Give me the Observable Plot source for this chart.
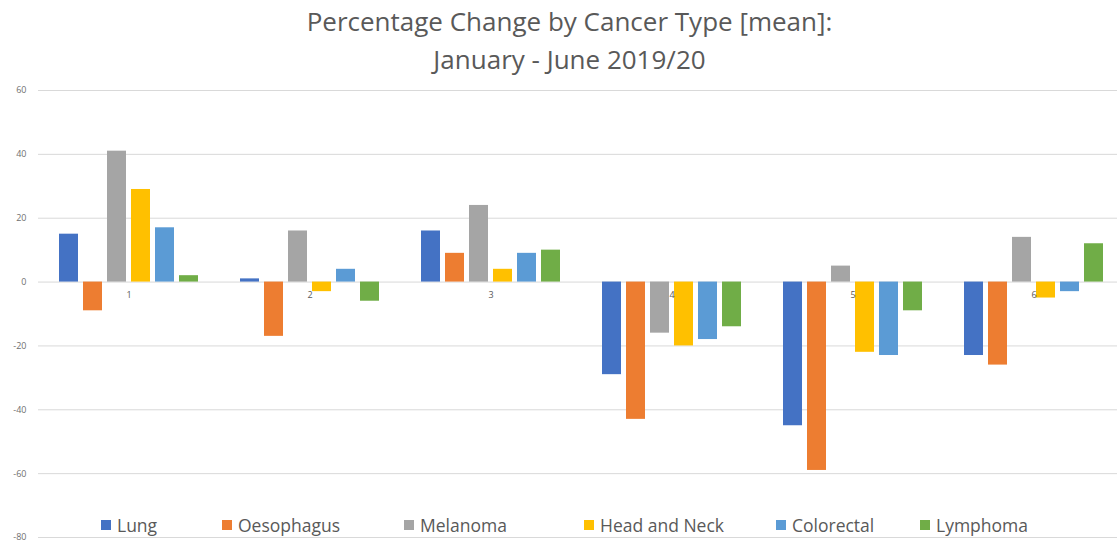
<!DOCTYPE html>
<html>
<head>
<meta charset="utf-8">
<script src="https://cdn.jsdelivr.net/npm/d3@7"></script>
<script src="https://cdn.jsdelivr.net/npm/@observablehq/plot@0.6"></script>
<style>
  html, body { margin: 0; padding: 0; background: #fff; }
  #wrap { position: relative; width: 1117px; height: 542px; overflow: hidden; font-family: "Open Sans", Lato, sans-serif; }
  #title { height: 80px; box-sizing: border-box; padding-top: 2px; text-align: center; color: #595959; font-size: 26px; line-height: 38px; padding-left: 22px; }
  #legend { position: absolute; top: 514px; left: 0; width: 1117px; height: 22px; font-size: 17.5px; color: #595959; }
  .item { position: absolute; top: 0; display: flex; align-items: center; height: 22px; }
  .sw { width: 10px; height: 10px; margin-right: 6px; }
</style>
</head>
<body>
<div id="wrap">
  <div id="title">Percentage Change by Cancer Type [mean]:<br>January - June 2019/20</div>
  <div id="chart"></div>
  <div id="legend"></div>
</div>
<script>
const months = [1, 2, 3, 4, 5, 6];
const cancerTypes = ["Lung", "Oesophagus", "Melanoma", "Head and Neck", "Colorectal", "Lymphoma"];
const colors = ["#4472C4", "#ED7D31", "#A5A5A5", "#FFC000", "#5B9BD5", "#70AD47"];
const lung        = [15, 1, 16, -29, -45, -23];
const oesophagus  = [-9, -17, 9, -43, -59, -26];
const melanoma    = [41, 16, 24, -16, 5, 14];
const headAndNeck = [29, -3, 4, -20, -22, -5];
const colorectal  = [17, 4, 9, -18, -23, -3];
const lymphoma    = [2, -6, 10, -14, -9, 12];
const yTicks = [-80, -60, -40, -20, 0, 20, 40, 60];

const series = [lung, oesophagus, melanoma, headAndNeck, colorectal, lymphoma];
const data = [];
months.forEach((m, i) => {
  cancerTypes.forEach((t, j) => data.push({month: m, type: t, value: series[j][i]}));
});

const chart = Plot.plot({
  width: 1117,
  height: 462,
  marginLeft: 37,
  marginRight: -8,
  marginTop: 10,
  marginBottom: 5,
  style: {fontFamily: "'Open Sans', Lato, sans-serif", fontSize: "9px", color: "#6f6f6f", background: "#fff"},
  fx: {domain: months, padding: 0, axis: null},
  x: {domain: cancerTypes, paddingInner: 0.21, paddingOuter: 0.875, axis: null},
  y: {domain: [-80, 60], ticks: yTicks, tickSize: 0, tickPadding: 12, label: null, tickFormat: d => String(d)},
  color: {domain: cancerTypes, range: colors},
  marks: [
    Plot.ruleY(yTicks, {stroke: "#d9d9d9", strokeWidth: 1}),
    Plot.barY(data, {fx: "month", x: "type", y: "value", fill: "type"}),
    Plot.text(months, {fx: d => d, y: () => 0, text: d => String(d), dy: 13, fill: "#595959", fontSize: 9})
  ]
});
document.getElementById("chart").appendChild(chart);

const legendLefts = [101, 222, 404, 584, 776, 920];
const legend = document.getElementById("legend");
cancerTypes.forEach((t, i) => {
  const item = document.createElement("div");
  item.className = "item";
  item.style.left = legendLefts[i] + "px";
  const sw = document.createElement("span");
  sw.className = "sw";
  sw.style.background = colors[i];
  const label = document.createElement("span");
  label.textContent = t;
  item.appendChild(sw);
  item.appendChild(label);
  legend.appendChild(item);
});
</script>
</body>
</html>
